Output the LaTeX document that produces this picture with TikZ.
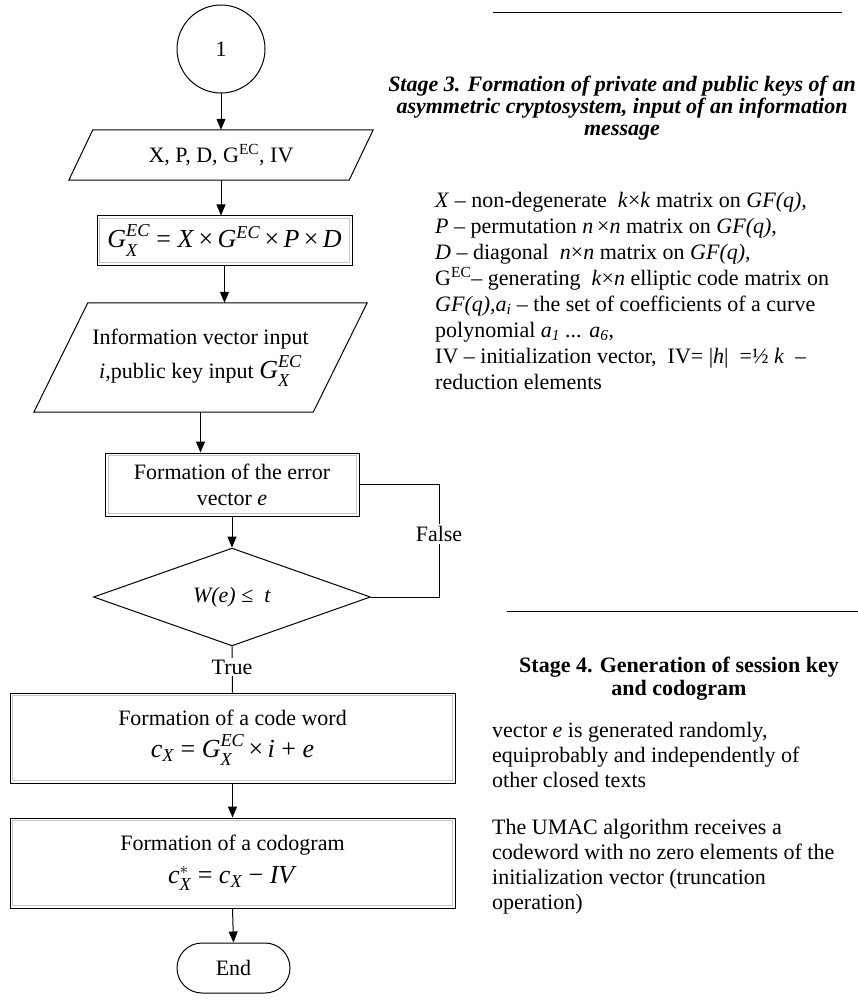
\documentclass[tikz,border=0pt]{standalone}
\usepackage{amsmath}
\usepackage{fontspec}
\setmainfont{Liberation Serif}
\usetikzlibrary{arrows.meta,shapes.geometric,shapes.misc}
\newcommand{\GXEC}{\textit{G}$^{\raisebox{2pt}{$\scriptstyle\textit{EC}$}}_{\raisebox{-2pt}{$\scriptstyle\textit{X}$}}$}
\begin{document}
\begin{tikzpicture}[x=1pt,y=-1pt,
  ln/.style={line width=1pt},
  conn/.style={line width=1pt,-{Triangle[length=11pt,width=9pt]}},
  txt/.style={font=\fontsize{22}{26}\selectfont,inner sep=0pt},
  procbox/.style={draw,line width=1pt,font=\fontsize{22}{26}\selectfont,align=center,inner sep=0pt},
  iobox/.style={font=\fontsize{22}{26}\selectfont,align=center,inner sep=0pt},
  lbl/.style={fill=white,font=\fontsize{22}{24}\selectfont,inner sep=2pt},
  innerframe/.style={gray!45,line width=0.8pt}
]
\useasboundingbox (0,0) rectangle (858,1000);

% ---------- flowchart ----------
\node[draw,circle,line width=1pt,minimum size=88pt,inner sep=0pt,font=\fontsize{22}{24}\selectfont] (start) at (221,49) {1};

\node[iobox,minimum width=280pt,minimum height=50pt] (par1) at (221,155) {X, P, D, G\textsuperscript{EC}, IV};
\draw[ln] ([xshift=12pt]par1.north west) -- ([xshift=12pt]par1.north east) -- ([xshift=-12pt]par1.south east) -- ([xshift=-12pt]par1.south west) -- cycle;

\node[procbox,minimum width=255pt,minimum height=49pt,font=\fontsize{26}{30}\selectfont] (box2) at (224.5,240.5) {\GXEC{} = \textit{X}\,×\,\textit{G}$^{\textit{EC}}$\,×\,\textit{P}\,×\,\textit{D}};
\draw[innerframe] ([shift={(3,3)}]box2.north west) rectangle ([shift={(-3,-3)}]box2.south east);

\node[iobox,minimum width=279pt,minimum height=109pt] (par2) at (200.5,357.5) {Information vector input\\[5pt] \textit{i},public key input {\fontsize{26}{28}\selectfont\GXEC}};
\draw[ln] ([xshift=27pt]par2.north west) -- ([xshift=27pt]par2.north east) -- ([xshift=-27pt]par2.south east) -- ([xshift=-27pt]par2.south west) -- cycle;

\node[procbox,minimum width=254pt,minimum height=63pt] (box3) at (232,484.5) {Formation of the error\\ vector \textit{e}};
\draw[innerframe] ([shift={(4,3)}]box3.north west) rectangle ([shift={(-3,-3)}]box3.south east);

\node[draw,diamond,line width=1pt,minimum width=277pt,minimum height=90pt,inner sep=0pt,font=\fontsize{22}{24}\selectfont] (dec) at (232,597) {\textit{W(e)} ≤ \ \textit{t}};

\node[procbox,minimum width=445pt,minimum height=90pt] (box4) at (232.5,738) {Formation of a code word\\[6pt] {\fontsize{26}{28}\selectfont\textit{c}$_{\textit{X}}$ = \GXEC{}\,×\,\textit{i} + \textit{e}}};
\draw[innerframe] ([shift={(3,3)}]box4.north west) rectangle ([shift={(-3,-3)}]box4.south east);

\node[procbox,minimum width=445pt,minimum height=90pt] (box5) at (232.5,863) {\rule{0pt}{12pt}Formation of a codogram\\[7pt] {\fontsize{26}{28}\selectfont\textit{c}$^{*}_{\textit{X}}$ = \textit{c}$_{\textit{X}}$ − \textit{IV}}};
\draw[innerframe] ([shift={(3,3)}]box5.north west) rectangle ([shift={(-3,-3)}]box5.south east);

\node[draw,rounded rectangle,line width=1pt,minimum width=113pt,minimum height=50pt,inner sep=0pt,font=\fontsize{22}{24}\selectfont] (end) at (233.5,968) {End};

% connectors
\draw[conn] (start.south) -- (par1.north);
\draw[conn] (par1.south) -- (par1.south |- box2.north);
\draw[conn] (box2.south) -- (box2.south |- par2.north);
\draw[conn] (par2.south) -- (par2.south |- box3.north);
\draw[conn] (box3.south) -- (dec.north);
\draw[ln] (dec.south) -- (box4.north);
\node[lbl] (truelbl) at (232,667) {True};
\coordinate (fc) at (439,484.5);
\draw[ln] (dec.east) -| (fc) -- (box3.east);
\node[lbl] (falselbl) at (439,534) {False};
\draw[conn] (box4.south) -- (box5.north);
\draw[conn] (box5.south) -- (end.north);

% ---------- right column ----------
\draw[ln] (493,13) -- (842,13);
\node[txt,anchor=north,align=center,font=\fontsize{22}{22}\selectfont\bfseries\itshape] (s3title) at (622,76)
{Stage 3. Formation of private and public keys of an\\ asymmetric cryptosystem, input of an information\\ message};

\node[txt,anchor=north west,align=left] (s3body) at (435,192) {%
\textit{X} – non-degenerate\ \ \textit{k}×\textit{k} matrix on \textit{GF(q),}\\
\textit{P} – permutation \textit{n}\,×\textit{n} matrix on \textit{GF(q)},\\
\textit{D} – diagonal\ \ \textit{n}×\textit{n} matrix on \textit{GF(q),}\\
G\textsuperscript{EC}– generating\ \ \textit{k}×\textit{n} elliptic code matrix on\\
\textit{GF(q),a\textsubscript{i}} – the set of coefficients of a curve\\
polynomial \textit{a\textsubscript{1} ... a\textsubscript{6}},\\
IV – initialization vector,\ \ IV= |\textit{h}|\ \ =½ \textit{k}\ \ –\\
reduction elements};

\draw[ln] (507,611) -- (858,611);
\node[txt,anchor=north,align=center,font=\fontsize{22}{23}\selectfont\bfseries] (s4title) at (679,657)
{Stage 4. Generation of session key\\ and codogram};

\node[txt,anchor=north west,align=left,font=\fontsize{22}{25}\selectfont] (s4a) at (492,722) {%
vector \textit{e} is generated randomly,\\
equiprobably and independently of\\
other closed texts};

\node[txt,anchor=north west,align=left,font=\fontsize{22}{25}\selectfont] (s4b) at (492,819) {%
The UMAC algorithm receives a\\
codeword with no zero elements of the\\
initialization vector (truncation\\
operation)};
\end{tikzpicture}
\end{document}
